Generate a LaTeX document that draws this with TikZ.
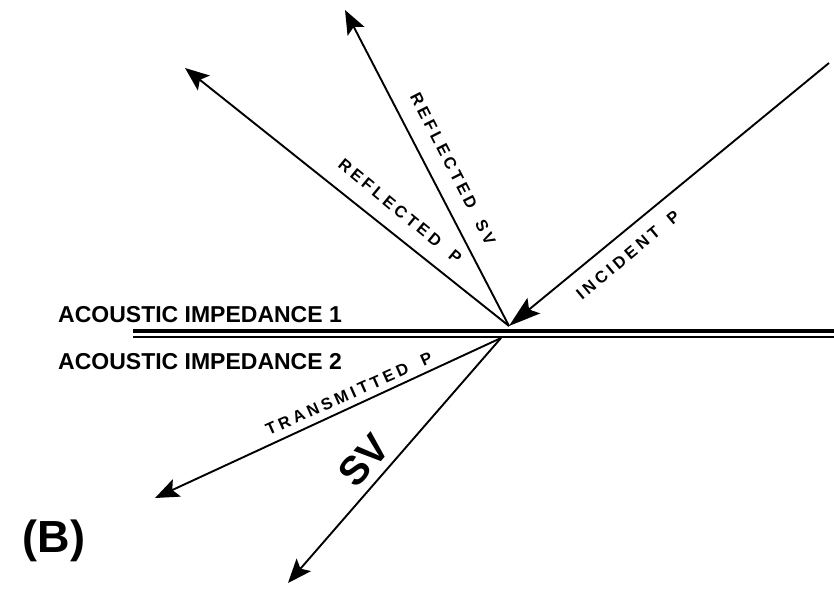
\documentclass[tikz,border=0pt]{standalone}
\usepackage{fontspec}
\setmainfont{Liberation Sans}
\newfontfamily\rayfont[LetterSpace=22]{Liberation Sans}
\usetikzlibrary{arrows.meta}
\newcommand{\gap}{\hspace{0.9em}}

\begin{document}
\begin{tikzpicture}[x=1pt,y=-1pt,
  ray/.style={line width=1.9pt,-{Stealth[length=24pt,width=19pt,inset=5pt]}},
  bigray/.style={line width=1.9pt,-{Stealth[length=32pt,width=20pt,inset=6pt]}},
  raylabel/.style={font=\rayfont\bfseries\fontsize{16.5}{16.5}\selectfont,inner sep=0pt},
  medium/.style={font=\bfseries\fontsize{23}{23}\selectfont,anchor=west,inner sep=0pt}]
  \useasboundingbox (0,0) rectangle (834,589);
  % interface between the two media
  \coordinate (l1) at (133,331); \coordinate (r1) at (834,331);
  \coordinate (l2) at (133,337); \coordinate (r2) at (834,337);
  \draw[line width=3.4pt] (l1) -- (r1);
  \draw[line width=2.6pt] (l2) -- (r2);
  \node[medium] (z1) at (58,314.5) {ACOUSTIC IMPEDANCE 1};
  \node[medium] (z2) at (58,361.5) {ACOUSTIC IMPEDANCE 2};
  % rays
  \coordinate (O)   at (509,326);
  \coordinate (Ob)  at (501,338);
  \coordinate (src) at (829,63);
  \coordinate (rp)  at (185,68);
  \coordinate (rs)  at (345,10);
  \coordinate (tp)  at (155,498);
  \coordinate (ts)  at (288,583);
  \draw[bigray] (src) -- (O);
  \foreach \s/\e in {O/rp,O/rs,Ob/tp,Ob/ts} \draw[ray] (\s) -- (\e);
  % labels along the rays
  \node[raylabel,rotate=-63]   (lrs) at (453,169) {REFLECTED\gap SV};
  \node[raylabel,rotate=-39.5] (lrp) at (400,211) {REFLECTED\gap P};
  \node[raylabel,rotate=39.9]  (lip) at (628,255) {INCIDENT\gap P};
  \node[raylabel,rotate=24]    (ltp) at (349,394) {TRANSMITTED\gap P};
  \node[font=\bfseries\fontsize{40}{40}\selectfont,rotate=49,inner sep=0pt] (lsv) at (364,460) {SV};
  \node[font=\bfseries\fontsize{45}{45}\selectfont,inner sep=0pt] (fig) at (54,541) {(B)};
\end{tikzpicture}
\end{document}
